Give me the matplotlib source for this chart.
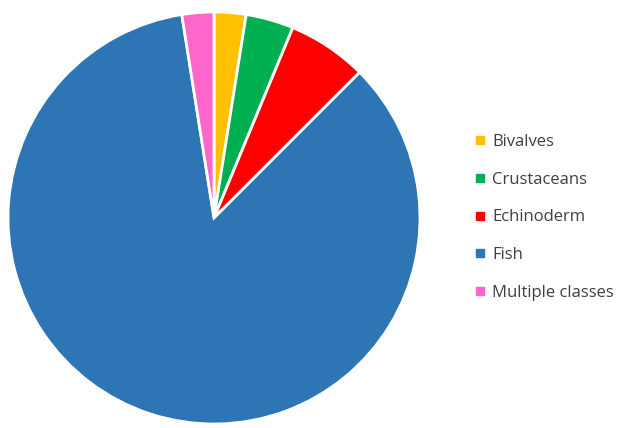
import matplotlib.pyplot as plt
from matplotlib.lines import Line2D

labels = ["Bivalves", "Crustaceans", "Echinoderm", "Fish", "Multiple classes"]
counts = [2, 3, 5, 68, 2]
colors = ["#FFC000", "#00B050", "#FF0000", "#2E75B6", "#FF66CC"]

fig = plt.figure(figsize=(6.26, 4.28), dpi=100)
ax = fig.add_axes([8 / 626, 4 / 428, 412 / 626, 412 / 428])
ax.pie(counts, colors=colors, startangle=90, counterclock=False,
       wedgeprops=dict(edgecolor="white", linewidth=2))
ax.set_xlim(-1.0, 1.0)
ax.set_ylim(-1.0, 1.0)
ax.set_aspect("equal")

handles = [Line2D([], [], marker="s", linestyle="none", markersize=6,
                  markerfacecolor=c, markeredgecolor=c) for c in colors]
fig.legend(handles, labels, loc="center left", bbox_to_anchor=(457 / 626, 0.492),
           frameon=False, labelspacing=1.3, handletextpad=0.2,
           handlelength=1.0, prop={"family": "Open Sans", "size": 12})
for t in fig.legends[0].get_texts():
    t.set_color("#404040")

fig.savefig("out.png", dpi=100)
